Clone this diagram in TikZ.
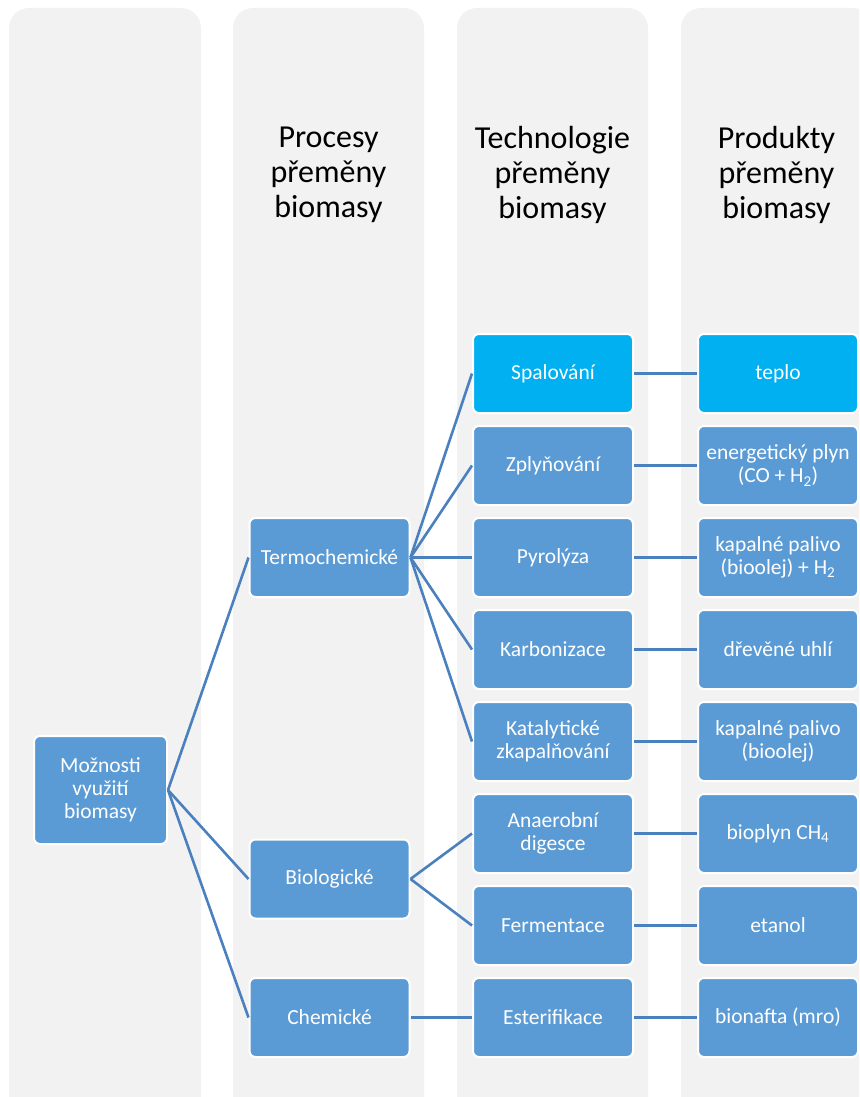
\documentclass[tikz,border=0pt]{standalone}
\usepackage{fontspec}
\setmainfont{Carlito}
\definecolor{colgray}{HTML}{F2F2F2}
\definecolor{nodeblue}{HTML}{5B9BD5}
\definecolor{cyanblue}{HTML}{00B0F0}
\definecolor{linkblue}{HTML}{4A80BE}
\begin{document}
\begin{tikzpicture}[x=1pt,y=-1pt,
  column/.style={fill=colgray, rounded corners=20pt},
  box/.style={rectangle, rounded corners=6pt, fill=nodeblue, draw=white, line width=2pt,
    text=white, align=center, minimum width=160pt, minimum height=79pt, inner sep=2pt,
    font=\fontsize{21.5}{23}\selectfont},
  hot/.style={box, fill=cyanblue},
  head/.style={align=center, font=\fontsize{32}{35}\selectfont, text=black},
  link/.style={draw=linkblue, line width=2.6pt}]
\useasboundingbox (0,0) rectangle (859,1097);
\clip (0,0) rectangle (859,1097);
% columns
\path[column] (9,8) rectangle (201,1120);
\path[column] (233,8) rectangle (424,1120);
\path[column] (457,8) rectangle (648,1120);
\path[column] (681,8) rectangle (873,1120);
% headers
\node[head] (h2) at (328.5,175) {Procesy\\přeměny\\biomasy};
\node[head] (h3) at (552.5,175) {Technologie\\přeměny\\biomasy};
\node[head] (h4) at (776.5,175) {Produkty\\přeměny\\biomasy};
% column 1
\node[box, minimum width=133pt, minimum height=108pt] (mo) at (100.5,790) {Možnosti\\využití\\biomasy};
% column 2
\node[box] (termo) at (329.5,557.5) {Termochemické};
\node[box] (bio) at (329.5,879) {Biologické};
\node[box] (chem) at (329.5,1017.5) {Chemické};
% column 3
\node[hot] (spal) at (553,373.5) {Spalování};
\node[box] (zply) at (553,465.5) {Zplyňování};
\node[box] (pyro) at (553,557.5) {Pyrolýza};
\node[box] (karb) at (553,649.5) {Karbonizace};
\node[box] (kata) at (553,741.5) {Katalytické\\zkapalňování};
\node[box] (anae) at (553,833.5) {Anaerobní\\digesce};
\node[box] (ferm) at (553,925.5) {Fermentace};
\node[box] (este) at (553,1017.5) {Esterifikace};
% column 4
\node[hot] (teplo) at (778,373.5) {teplo};
\node[box] (plyn) at (778,465.5) {energetický plyn\\(CO + H\textsubscript{2})};
\node[box] (kap1) at (778,557.5) {kapalné palivo\\(bioolej) + H\textsubscript{2}};
\node[box] (uhli) at (778,649.5) {dřevěné uhlí};
\node[box] (kap2) at (778,741.5) {kapalné palivo\\(bioolej)};
\node[box] (bioplyn) at (778,833.5) {bioplyn CH\textsubscript{4}};
\node[box] (etanol) at (778,925.5) {etanol};
\node[box] (bionafta) at (778,1017.5) {bionafta (mro)};
% connectors
\foreach \t in {termo,bio,chem} \draw[link] (mo.east) -- (\t.west);
\foreach \t in {spal,zply,pyro,karb,kata} \draw[link] (termo.east) -- (\t.west);
\foreach \t in {anae,ferm} \draw[link] (bio.east) -- (\t.west);
\draw[link] (chem.east) -- (este.west);
\draw[link] (spal.east) -- (teplo.west);
\draw[link] (zply.east) -- (plyn.west);
\draw[link] (pyro.east) -- (kap1.west);
\draw[link] (karb.east) -- (uhli.west);
\draw[link] (kata.east) -- (kap2.west);
\draw[link] (anae.east) -- (bioplyn.west);
\draw[link] (ferm.east) -- (etanol.west);
\draw[link] (este.east) -- (bionafta.west);
\end{tikzpicture}
\end{document}
